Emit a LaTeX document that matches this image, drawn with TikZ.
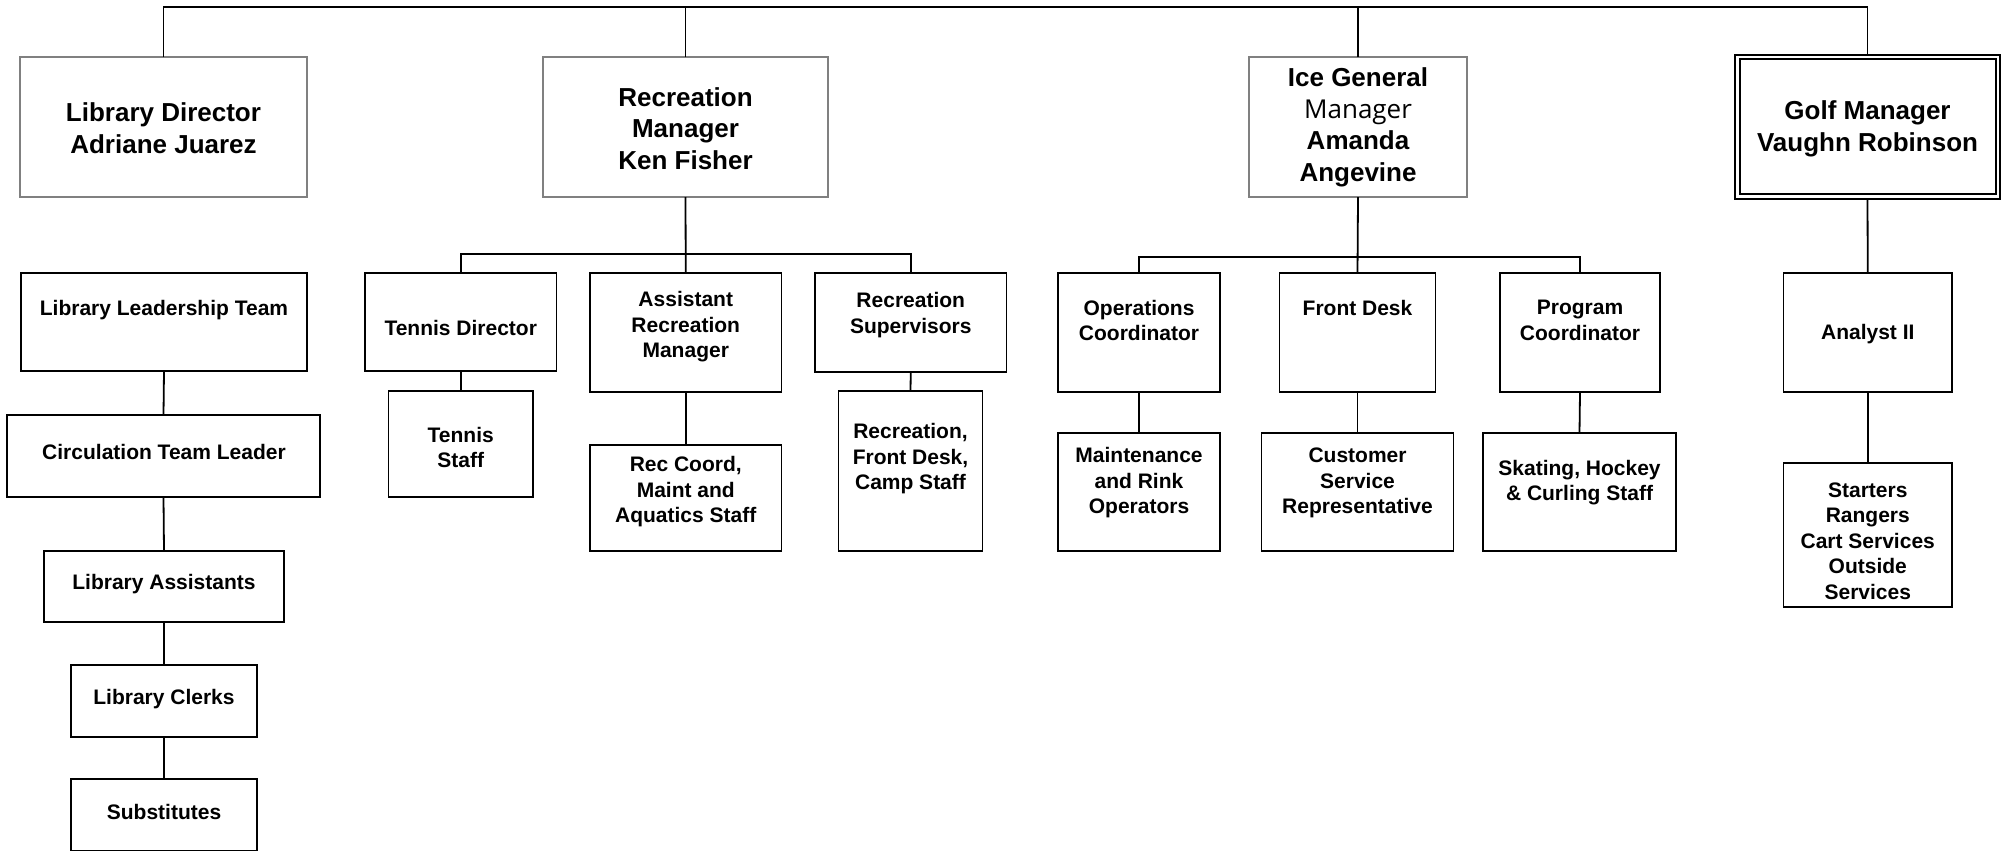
\documentclass[tikz,border=0pt]{standalone}
\usepackage{fontspec}
\setmainfont{Liberation Sans}
\newfontfamily\osans{Open Sans}
\tikzset{
  every node/.style={inner sep=0pt, outer sep=0pt},
  topbox/.style={draw=black!50, line width=2pt, fill=white},
  orgbx/.style={draw=black, line width=1.8pt, fill=white},
  golfout/.style={draw=black, line width=2.2pt},
  golfin/.style={draw=black, line width=1.6pt},
  tone/.style={font=\fontsize{26}{31.5}\selectfont\bfseries, align=center},
  ttwo/.style={font=\fontsize{21}{25.5}\selectfont\bfseries, align=center, yshift=-2pt},
  conn/.style={draw=black, line width=1.8pt}
}
\newcommand{\orgbox}[6]{%
  \node[#1, minimum width={#5-#3}, minimum height={#6-#4}] (#2) at ({(#3+#5)/2},{(#4+#6)/2}) {};}
\begin{document}
\begin{tikzpicture}[x=1pt,y=-1pt]
\useasboundingbox (0,0) rectangle (2007,852);
\coordinate (bus) at (0,7);
\coordinate (rbus) at (0,254);
\coordinate (ibus) at (0,257);

% ---- top level boxes
\orgbox{topbox}{libdir}{20}{57}{307}{197}
\orgbox{topbox}{recmgr}{543}{57}{828}{197}
\orgbox{topbox}{icemgr}{1249}{57}{1467}{197}
\orgbox{golfout}{golfo}{1735}{55}{2000}{199}
\orgbox{golfin}{golfi}{1740}{59}{1996}{194}

\node[tone] (libdir-t) at (163.5,128) {Library Director\\Adriane Juarez};
\node[tone] (recmgr-t) at (685.5,128.5) {Recreation\\Manager\\Ken Fisher};
\node[tone] (icemgr-t) at (1358,127.5) {Ice General\\{\osans\mdseries Manager}\\Amanda\\Angevine};
\node[tone] (golf-t) at (1867.5,129) {Golf Manager\\Vaughn Robinson};

% ---- library column
\orgbox{orgbx}{llt}{21}{273}{307}{371}
\orgbox{orgbx}{ctl}{7}{415}{320}{497}
\orgbox{orgbx}{la}{44}{551}{284}{622}
\orgbox{orgbx}{lc}{71}{665}{257}{737}
\orgbox{orgbx}{sub}{71}{779}{257}{850.5}
\node[ttwo] (llt-t) at (164,308) {Library Leadership Team};
\node[ttwo] (ctl-t) at (164,450) {Circulation Team Leader};
\node[ttwo] (la-t) at (164,582) {Library Assistants};
\node[ttwo] (lc-t) at (164,697) {Library Clerks};
\node[ttwo] (sub-t) at (164,810) {Substitutes};

% ---- recreation
\orgbox{orgbx}{td}{365}{273}{556.5}{371}
\orgbox{orgbx}{ts}{388.5}{391}{533}{497}
\orgbox{orgbx}{arm}{590}{273}{781.5}{392}
\orgbox{orgbx}{rcs}{590}{445}{781.5}{551}
\orgbox{orgbx}{rs}{815}{273}{1006.5}{372}
\orgbox{orgbx}{rfc}{838.5}{391}{982.5}{551}
\node[ttwo] (td-t) at (460.75,326) {Tennis Director};
\node[ttwo] (ts-t) at (460.75,445.5) {Tennis\\Staff};
\node[ttwo] (arm-t) at (685.75,325) {Assistant\\Recreation\\Manager};
\node[ttwo] (rcs-t) at (685.75,490) {Rec Coord,\\Maint and\\Aquatics Staff};
\node[ttwo] (rs-t) at (910.75,313) {Recreation\\Supervisors};
\node[ttwo] (rfc-t) at (910.5,457) {Recreation,\\Front Desk,\\Camp Staff};

% ---- ice
\orgbox{orgbx}{oc}{1058}{273}{1220}{392}
\orgbox{orgbx}{fd}{1279.5}{273}{1435.5}{392}
\orgbox{orgbx}{pc}{1500}{273}{1660}{392}
\orgbox{orgbx}{mro}{1058}{433}{1220}{551}
\orgbox{orgbx}{csr}{1261.5}{433}{1453.5}{551}
\orgbox{orgbx}{shc}{1483}{433}{1676}{551}
\node[ttwo] (oc-t) at (1139,318.5) {Operations\\Coordinator};
\node[ttwo] (fd-t) at (1357.5,306) {Front Desk};
\node[ttwo] (pc-t) at (1580,318.5) {Program\\Coordinator};
\node[ttwo] (mro-t) at (1139,481) {Maintenance\\and Rink\\Operators};
\node[ttwo] (csr-t) at (1357.5,481) {Customer\\Service\\Representative};
\node[ttwo] (shc-t) at (1579.5,480.5) {Skating, Hockey\\\& Curling Staff};

% ---- golf
\orgbox{orgbx}{an}{1783.5}{273}{1952}{392}
\orgbox{orgbx}{srv}{1783.5}{463}{1952}{607}
\node[ttwo] (an-t) at (1867.75,332) {Analyst II};
\node[ttwo] (srv-t) at (1867.75,539) {Starters\\Rangers\\Cart Services\\Outside\\Services};

% ---- connectors
\draw[conn] (libdir.north) -- (libdir.north |- bus) -- (golfo.north |- bus) -- (golfo.north);
\draw[conn] (recmgr.north) -- (recmgr.north |- bus);
\draw[conn] (icemgr.north) -- (icemgr.north |- bus);

\draw[conn] (llt.south) -- (ctl.north);
\draw[conn] (ctl.south) -- (la.north);
\draw[conn] (la.south) -- (lc.north);
\draw[conn] (lc.south) -- (sub.north);

\draw[conn] (recmgr.south) -- (arm.north);
\draw[conn] (td.north) -- (td.north |- rbus) -- (rs.north |- rbus) -- (rs.north);
\draw[conn] (td.south) -- (ts.north);
\draw[conn] (arm.south) -- (rcs.north);
\draw[conn] (rs.south) -- (rfc.north);

\draw[conn] (icemgr.south) -- (fd.north);
\draw[conn] (oc.north) -- (oc.north |- ibus) -- (pc.north |- ibus) -- (pc.north);
\draw[conn] (oc.south) -- (mro.north);
\draw[conn] (fd.south) -- (csr.north);
\draw[conn] (pc.south) -- (shc.north);

\draw[conn] (golfo.south) -- (an.north);
\draw[conn] (an.south) -- (srv.north);
\end{tikzpicture}
\end{document}
